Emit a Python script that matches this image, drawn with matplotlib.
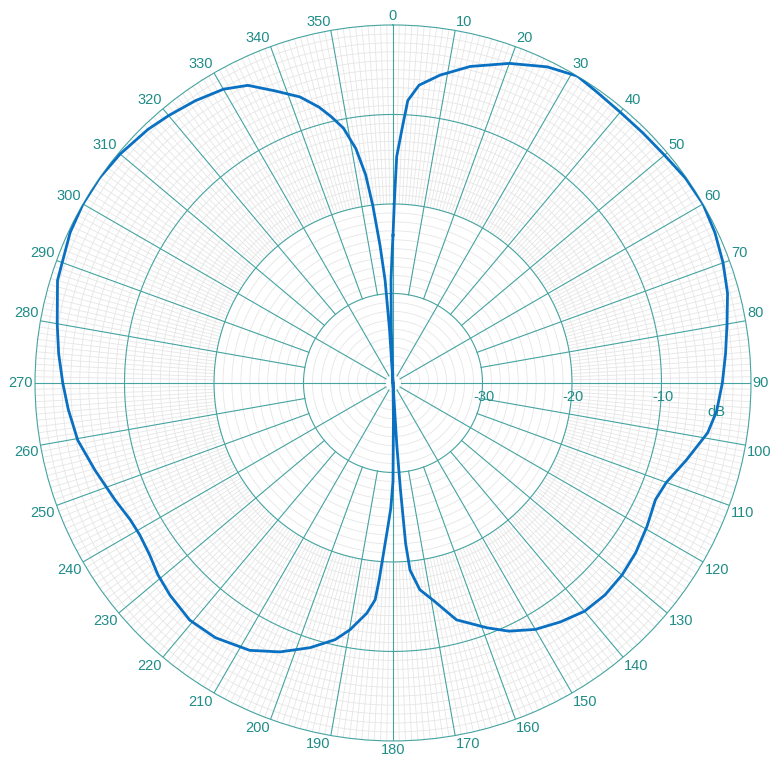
import numpy as np
import matplotlib.pyplot as plt

plt.rcParams['font.family'] = ['Liberation Sans', 'DejaVu Sans']

# radiation pattern: angle (deg, clockwise from top) and level (dB)
angle_deg = [0, 0.5, 0.94, 2, 3, 5, 8.7, 13.7, 20, 26, 31, 35, 40, 45, 50, 55, 60, 65,
             70, 75, 80, 85, 90, 95, 99, 104.7, 110, 114, 119.5, 125, 130, 135, 140,
             145, 150, 155, 159, 165, 169.5, 172.6, 174.8, 175.5, 176, 176.5, 177.5,
             178.5, 179.3, 180, 181, 182, 183, 184, 184.7, 186.5, 189.9, 192.7, 197.4,
             202.8, 208.2, 214.9, 220.6, 226.4, 230.8, 234.7, 239, 242.5, 247.2, 253.7,
             259.7, 265.3, 270, 275, 280, 287, 295, 300, 305, 310, 316, 320, 325, 330,
             334, 338, 342, 345, 347, 349, 351, 352.5, 353.5, 354.6, 355.6, 356.3, 357.2,
             358.2, 358.9, 359.5, 360]
level_db = [-23.5, -19, -14.7, -11.7, -8.4, -6.6, -5.2, -3.6, -2.0, -0.7, 0.0, -0.3, -0.5,
            -0.5, -0.4, -0.1, 0.0, -0.3, -0.75, -1.3, -2.1, -2.7, -3.2, -3.7, -4.4, -6.1,
            -7.5, -7.9, -7.4, -6.9, -6.6, -6.5, -6.7, -7.4, -8.2, -9.4, -10.7, -12.6,
            -15.3, -16.7, -19, -22, -28, -33, -40, -40, -36, -29, -26, -24, -21.5, -18,
            -15.7, -14.1, -12.0, -10.6, -9.0, -7.4, -6.1, -5.3, -5.1, -5.6, -6.1, -6.7,
            -7.0, -6.9, -6.3, -5.3, -4.2, -3.6, -3.1, -2.5, -1.9, -0.8, -0.2, 0.0, 0.0,
            -0.2, -0.6, -1.0, -1.5, -2.1, -3.0, -4.8, -6.4, -8.1, -9.5, -11, -13.5,
            -16.5, -20, -24.5, -28.5, -34, -40, -34, -28.5, -26, -23.5]

theta_ticks = list(range(0, 360, 10))
theta_labels = [str(a) for a in theta_ticks]
r_ticks = [-30, -20, -10]
r_labels = ['-30', '-20', '-10']

teal = '#45a3a0'
text_teal = '#1f8c88'
light = '#e6e6e6'

fig = plt.figure(figsize=(7.73, 7.65), dpi=100)
ax = fig.add_axes([0.0453, 0.0314, 0.9262, 0.936], projection='polar')
ax.set_theta_zero_location('N')
ax.set_theta_direction(-1)
ax.set_ylim(-40, 0)

# fine grid: 1 dB circles, 1 degree spokes in the outer two rings
full = np.linspace(0, 2 * np.pi, 721)
for r in range(-39, 0):
    if r % 10:
        ax.plot(full, np.full_like(full, r), color=light, lw=0.6, zorder=1)
for a in range(360):
    if a % 10:
        ax.plot([np.deg2rad(a)] * 2, [-20, 0], color=light, lw=0.6, zorder=1)

# major grid
for r in r_ticks:
    ax.plot(full, np.full_like(full, r), color=teal, lw=0.8, zorder=2)
for a in theta_ticks:
    r0 = -39.1 if a % 30 == 0 else -30
    ax.plot([np.deg2rad(a)] * 2, [r0, 0], color=teal, lw=0.8, zorder=2)

ax.set_xticks(np.deg2rad(theta_ticks))
ax.set_xticklabels([])
ax.grid(False)
ax.set_yticks([])
ax.spines['polar'].set_edgecolor(teal)
ax.spines['polar'].set_linewidth(0.8)

# angle labels, anchored just outside the ring and aligned away from it
for a, lab in zip(theta_ticks, theta_labels):
    if a in (0, 180):
        ha = 'center'
    elif a < 180:
        ha = 'left'
    else:
        ha = 'right'
    if a in (90, 270):
        va = 'center'
    elif 90 < a < 270:
        va = 'top'
    else:
        va = 'bottom'
    ax.text(np.deg2rad(a), 0.2, lab, ha=ha, va=va, color=text_teal,
            fontsize=10.5, clip_on=False)

for r, lab in zip(r_ticks, r_labels):
    ax.annotate(lab, xy=(np.pi / 2, r), xytext=(1, -10), textcoords='offset points',
                ha='center', va='center', color=text_teal, fontsize=10.5)
ax.annotate('dB', xy=(np.pi / 2, -3.9), xytext=(0, -21), textcoords='offset points',
            ha='center', va='center', color=text_teal, fontsize=10.5)

ax.plot(np.deg2rad(angle_deg), level_db, color='#0a70c2', lw=2.0, zorder=5)

fig.savefig('out.png', dpi=100)
